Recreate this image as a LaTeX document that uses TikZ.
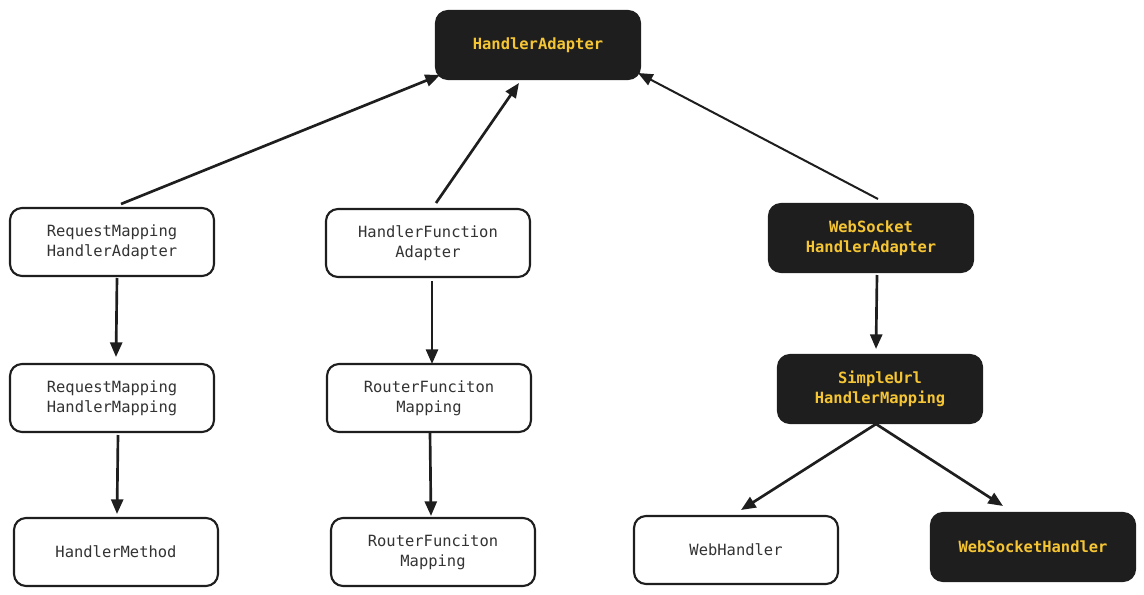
\documentclass[tikz,border=0pt]{standalone}
\usepackage{fontspec}
\newfontfamily\monofam{DejaVu Sans Mono}
\usetikzlibrary{arrows.meta}
\definecolor{darkbg}{HTML}{1E1E1E}
\definecolor{yel}{HTML}{F5C534}
\definecolor{txt}{HTML}{333333}
\begin{document}
\begin{tikzpicture}[x=0.75pt,y=-0.75pt,
  box/.style={draw=darkbg, line width=1.6pt, rounded corners=9pt, minimum width=153pt, minimum height=51pt, align=center, font=\monofam\fontsize{11.6}{14.8}\selectfont, text=txt, fill=white},
  dbox/.style={box, fill=darkbg, text=yel, font=\monofam\bfseries\fontsize{11.6}{14.8}\selectfont},
  arr/.style={draw=darkbg, line width=2pt, -{Triangle[length=11pt,width=9pt]}}
]
\useasboundingbox (0,0) rectangle (1144,595);
\node[dbox] (ha) at (538,45) {HandlerAdapter};
\node[box] (rmha) at (112,242) {RequestMapping\\HandlerAdapter};
\node[box] (hfa) at (428,243) {HandlerFunction\\Adapter};
\node[dbox] (wsha) at (871,238) {WebSocket\\HandlerAdapter};
\node[box] (rmhm) at (112,398) {RequestMapping\\HandlerMapping};
\node[box] (rfm1) at (429,398) {RouterFunciton\\Mapping};
\node[dbox] (suhm) at (880,389) {SimpleUrl\\HandlerMapping};
\node[box] (hm) at (116,552) {HandlerMethod};
\node[box] (rfm2) at (433,552) {RouterFunciton\\Mapping};
\node[box] (wh) at (736,550) {WebHandler};
\node[dbox] (wsh) at (1033,547) {WebSocketHandler};

\coordinate (a1s) at (121,204); \coordinate (a1e) at (440,75);
\coordinate (a2s) at (436,203); \coordinate (a2e) at (519,83);
\coordinate (a3s) at (878,199); \coordinate (a3e) at (638,73);
\coordinate (b1s) at (117,278); \coordinate (b1e) at (116,357);
\coordinate (b2s) at (432,281); \coordinate (b2e) at (432,364);
\coordinate (b3s) at (877,275); \coordinate (b3e) at (876,349);
\coordinate (c1s) at (118,435); \coordinate (c1e) at (117,514);
\coordinate (c2s) at (430,433); \coordinate (c2e) at (431,516);
\coordinate (d0) at (876,424);
\coordinate (d1e) at (741,510); \coordinate (d2e) at (1003,506);
\draw[arr] (a1s) -- (a1e);
\draw[arr] (a2s) -- (a2e);
\draw[arr, line width=1.5pt] (a3s) -- (a3e);
\draw[arr] (b1s) -- (b1e);
\draw[arr] (b2s) -- (b2e);
\draw[arr] (b3s) -- (b3e);
\draw[arr] (c1s) -- (c1e);
\draw[arr] (c2s) -- (c2e);
\draw[arr] (d0) -- (d1e);
\draw[arr] (d0) -- (d2e);
\end{tikzpicture}
\end{document}
